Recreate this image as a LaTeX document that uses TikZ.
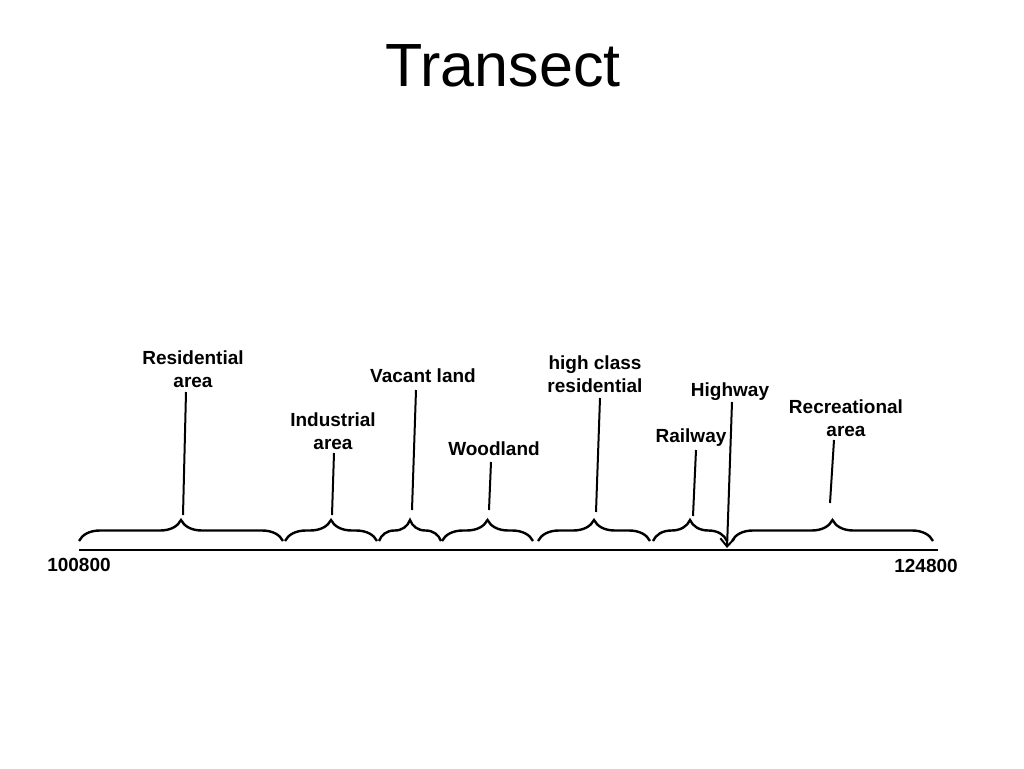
\documentclass[tikz,border=0pt]{standalone}
\usepackage{fontspec}
\setmainfont{Liberation Sans}
\usetikzlibrary{positioning}
\usetikzlibrary{decorations.pathreplacing}
\usetikzlibrary{arrows.meta}

\tikzset{
  zone/.style={decorate,decoration={brace,amplitude=21pt},line width=2.4pt},
  landuse/.style={font=\fontsize{19}{22.5}\selectfont\bfseries,align=center,inner sep=1pt},
  leader/.style={line width=2pt},
}

\begin{document}
\begin{tikzpicture}[x=1pt,y=-1pt,>={Straight Barb[length=8pt,width=14pt]}]
          \useasboundingbox (0,0) rectangle (1024,768);
          \node (title) at (503,66) {\fontsize{61}{70}\selectfont Transect};

          % labels
          \node (res)  [landuse] at (193,369) {Residential\\area};
          \node (ind)  [landuse] at (333,431) {Industrial\\area};
          \node (vac)  [landuse] at (423,376) {Vacant land};
          \node (wood) [landuse] at (494,449) {Woodland};
          \node (hcr)  [landuse] at (595,374) {high class\\residential};
          \node (hwy)  [landuse] at (730,392) {Highway};
          \node (rail) [landuse] at (691,438) {Railway};
          \node (rec)  [landuse] at (846,418) {Recreational\\area};
          \node (lo)   [landuse] at (79,565)  {100800};
          \node (hi)   [landuse] at (926,566) {124800};

          % axis
          \coordinate (ax-l) at (79,550);
          \coordinate (ax-r) at (938,550);
          \draw[line width=2pt] (ax-l) -- (ax-r);

          % braces
          \coordinate (b0) at (79,541);
          \coordinate (b1) at (283,541);
          \coordinate (b2) at (285,541);
          \coordinate (b3) at (377,541);
          \coordinate (b4) at (379,541);
          \coordinate (b5) at (441,541);
          \coordinate (b6) at (442,541);
          \coordinate (b7) at (533,541);
          \coordinate (b8) at (538,541);
          \coordinate (b9) at (650,541);
          \coordinate (b10) at (653,541);
          \coordinate (b11) at (727,541);
          \coordinate (b12) at (732,541);
          \coordinate (b13) at (933,541);
          \draw[zone] (b0) -- (b1);
          \draw[zone] (b2) -- (b3);
          \draw[zone] (b4) -- (b5);
          \draw[zone] (b6) -- (b7);
          \draw[zone] (b8) -- (b9);
          \draw[zone] (b10) -- (b11);
          \draw[zone] (b12) -- (b13);

          % leaders
          \coordinate (res-t) at (186,392);  \coordinate (res-b) at (183,515);
          \coordinate (ind-t) at (334,453);  \coordinate (ind-b) at (332,515);
          \coordinate (vac-t) at (416,390);  \coordinate (vac-b) at (412,510);
          \coordinate (wood-t) at (491,462); \coordinate (wood-b) at (489,510);
          \coordinate (hcr-t) at (600,398);  \coordinate (hcr-b) at (596,512);
          \coordinate (rail-t) at (696,450); \coordinate (rail-b) at (693,516);
          \coordinate (rec-t) at (834,440);  \coordinate (rec-b) at (830,503);
          \coordinate (hwy-t) at (732,402);  \coordinate (hwy-b) at (727,548);
          \draw[leader] (res-t) -- (res-b);
          \draw[leader] (ind-t) -- (ind-b);
          \draw[leader] (vac-t) -- (vac-b);
          \draw[leader] (wood-t) -- (wood-b);
          \draw[leader] (hcr-t) -- (hcr-b);
          \draw[leader] (rail-t) -- (rail-b);
          \draw[leader] (rec-t) -- (rec-b);
          \draw[leader,->] (hwy-t) -- (hwy-b);
        \end{tikzpicture}
\end{document}
